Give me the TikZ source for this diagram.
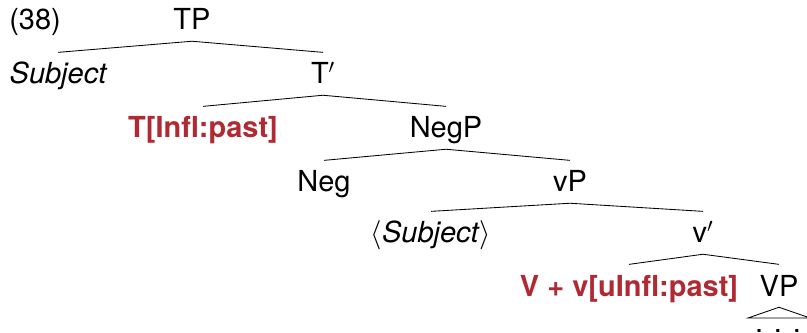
\documentclass[tikz,border=0pt]{standalone}
\usepackage{fontspec}
\setmainfont{TeX Gyre Heros}
\usepackage{xcolor}
\definecolor{featred}{RGB}{176,42,52}

\begin{document}
\begin{tikzpicture}[x=0.025cm,y=-0.025cm,
    lab/.style={inner sep=0pt,text height=22.3pt,text depth=7.8pt,anchor=base,
      font=\fontsize{20.6}{24}\selectfont},
    feat/.style={lab,text=featred,font=\fontsize{20.6}{24}\selectfont\bfseries},
    branch/.style={line width=0.6pt}]
  \clip (0,0) rectangle (807,333);

  % labels, row by row
  \node[lab,anchor=base west] (ex) at (9,30) {(38)};
  \node[lab] (TP) at (192,30) {TP};
  \node[lab] (Subj) at (58,84) {\itshape Subject};
  \node[lab] (Tbar) at (323,84) {T$'$};
  \node[feat] (T) at (203,138) {T[Infl:past]};
  \node[lab] (NegP) at (446,138) {NegP};
  \node[lab] (Neg) at (324,192) {Neg};
  \node[lab] (vP) at (570,192) {vP};
  \node[lab] (SubjTr) at (431,243) {$\langle$\textit{Subject}$\rangle$};
  \node[lab] (vbar) at (703,243) {v$'$};
  \node[feat] (Vv) at (629,296) {V + v[uInfl:past]};
  \node[lab] (VP) at (779,296) {VP};
  \node[lab] (dots) at (778,332) {. . .};

  % branches
  \foreach \p/\c in {TP/Subj, TP/Tbar, Tbar/T, Tbar/NegP, NegP/Neg, NegP/vP,
                     vP/SubjTr, vP/vbar, vbar/Vv, vbar/VP}
    \draw[branch] (\p.south) -- (\c.north);

  % triangle over the VP
  \coordinate (baseL) at (748,318);
  \coordinate (baseR) at (810,318);
  \draw[branch] (VP.south) -- (baseL) -- (baseR) -- cycle;
\end{tikzpicture}
\end{document}
